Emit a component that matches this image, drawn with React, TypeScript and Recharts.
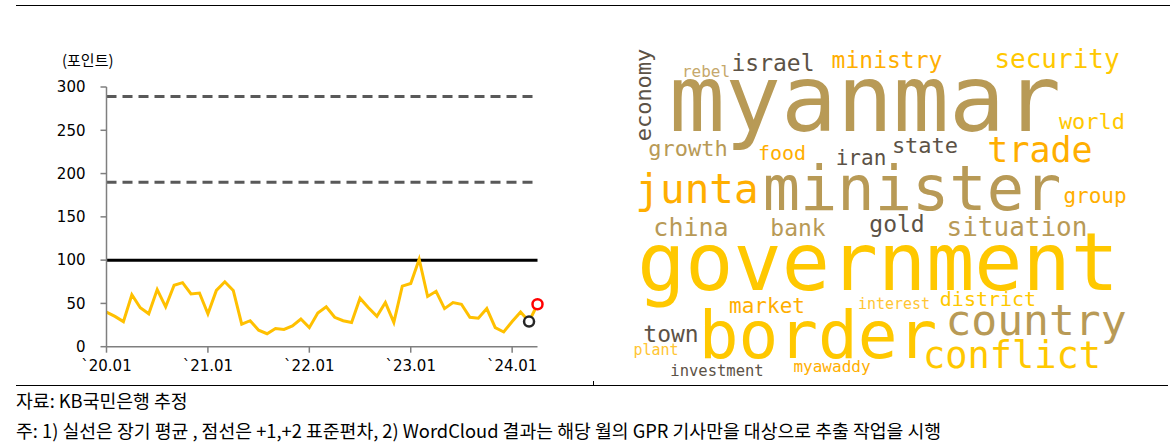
import React from "react";
import {
  LineChart,
  Line,
  XAxis,
  YAxis,
  ReferenceLine,
  ReferenceDot,
  ScatterChart,
  Scatter,
} from "recharts";

// GPR index, monthly 2020.01 ~ 2024.04
const months = [
  "`20.01", "`20.02", "`20.03", "`20.04", "`20.05", "`20.06", "`20.07", "`20.08", "`20.09", "`20.10", "`20.11", "`20.12",
  "`21.01", "`21.02", "`21.03", "`21.04", "`21.05", "`21.06", "`21.07", "`21.08", "`21.09", "`21.10", "`21.11", "`21.12",
  "`22.01", "`22.02", "`22.03", "`22.04", "`22.05", "`22.06", "`22.07", "`22.08", "`22.09", "`22.10", "`22.11", "`22.12",
  "`23.01", "`23.02", "`23.03", "`23.04", "`23.05", "`23.06", "`23.07", "`23.08", "`23.09", "`23.10", "`23.11", "`23.12",
  "`24.01", "`24.02", "`24.03", "`24.04",
];
const gpr = [
  40, 35, 29, 60, 45, 38, 66, 46, 71, 74, 61, 62,
  38, 65, 75, 65, 26, 30, 19, 15, 21, 20, 24, 32,
  22, 39, 46, 34, 30, 28, 56, 45, 35, 51, 28, 70,
  73, 101, 58, 64, 44, 51, 49, 34, 33, 44, 22, 17,
  29, 40, 29, 49,
];
const xTicks = [0, 12, 24, 36, 48];
const yTicks = [0, 50, 100, 150, 200, 250, 300];
const longMean = 100;
const sd1 = 190;
const sd2 = 289;

// word cloud: words with weights, then placement in the cloud box
const words = [
  "myanmar", "government", "border", "minister", "country", "junta", "conflict", "trade",
  "security", "situation", "china", "israel", "ministry", "bank", "gold", "town",
  "growth", "world", "state", "economy", "iran", "group", "market", "food",
  "district", "myawaddy", "rebel", "investment", "interest", "plant",
];
const weights = [
  93, 80, 66, 62, 43, 41, 37, 35,
  26, 26, 25, 23, 23, 23, 23, 23,
  22, 22, 22, 22, 21, 21, 21, 20,
  20, 16, 16, 15.5, 15, 15,
];
const placeX = [
  235, 248, 188, 282, 406, 67, 382, 410,
  427, 387, 61, 143, 257, 168, 267, 41,
  58, 462, 295, 21, 231, 465, 137, 152,
  358, 202, 76, 87, 264, 26,
];
const placeY = [
  86, 245, 313, 165, 290, 158, 323, 117,
  23, 191, 191, 26, 23, 191, 187, 297,
  111, 84, 108, 50, 120, 158, 268, 115,
  261, 327, 32, 331, 264, 310,
];
const tones = [
  "tan", "yellow", "yellow", "tan", "tan", "orange", "yellow", "orange",
  "yellow", "tan", "tan", "dark", "orange", "tan", "dark", "dark",
  "tan", "yellow", "dark", "dark", "dark", "orange", "orange", "orange",
  "yellow", "orange", "lightTan", "dark", "light", "light",
];

const toneColor: Record<string, string> = {
  tan: "#B89A56",
  lightTan: "#C6A86C",
  yellow: "#FFC800",
  orange: "#FFAE00",
  light: "#FFC533",
  dark: "#5C5246",
};

const lineData = gpr.map((v, i) => ({ idx: i, month: months[i], gpr: v }));
const cloudData = words.map((w, i) => ({
  word: w,
  size: weights[i],
  x: placeX[i],
  y: placeY[i],
  color: toneColor[tones[i]],
  vertical: w === "economy",
}));

const axisFont = { fontFamily: "DejaVu Sans", fontSize: 15, fill: "#000" };
const cjk = "'Noto Sans CJK KR', 'Noto Sans', sans-serif";

function Word(props: any) {
  const { cx, cy, payload } = props;
  if (cx == null || cy == null) return <g />;
  return (
    <text
      x={cx}
      y={cy}
      textAnchor="middle"
      fontFamily="DejaVu Sans Mono"
      fontSize={payload.size}
      fill={payload.color}
      transform={payload.vertical ? `rotate(-90 ${cx} ${cy})` : undefined}
    >
      {payload.word}
    </text>
  );
}

function GprChart() {
  return (
    <LineChart
      width={560}
      height={380}
      data={lineData}
      margin={{ top: 87, right: 22.5, bottom: 3.3, left: 46.5 }}
    >
      <XAxis
        dataKey="idx"
        type="number"
        domain={[0, 51]}
        ticks={xTicks}
        tickFormatter={(v: number) => months[v]}
        tick={axisFont}
        tickSize={6}
        tickMargin={8}
        height={30}
        stroke="#7F7F7F"
        strokeWidth={1.5}
        interval={0}
      />
      <YAxis
        type="number"
        domain={[0, 300]}
        ticks={yTicks}
        tick={axisFont}
        tickSize={6}
        tickMargin={15}
        width={60}
        stroke="#7F7F7F"
        strokeWidth={1.5}
        interval={0}
      />
      <ReferenceLine y={sd2} stroke="#595959" strokeWidth={3} strokeDasharray="10 6" />
      <ReferenceLine y={sd1} stroke="#595959" strokeWidth={3} strokeDasharray="10 6" />
      <ReferenceLine y={longMean} stroke="#000" strokeWidth={3} />
      <Line
        type="linear"
        dataKey="gpr"
        stroke="#FFC000"
        strokeWidth={3}
        dot={false}
        isAnimationActive={false}
      />
      <ReferenceDot x={50} y={gpr[50]} r={5} fill="#fff" stroke="#262626" strokeWidth={2.5} />
      <ReferenceDot x={51} y={gpr[51]} r={5} fill="#fff" stroke="#FF0000" strokeWidth={2.5} />
    </LineChart>
  );
}

function WordCloud() {
  return (
    <ScatterChart width={500} height={340} margin={{ top: 0, right: 0, bottom: 0, left: 0 }}>
      <XAxis type="number" dataKey="x" domain={[0, 500]} hide />
      <YAxis type="number" dataKey="y" domain={[0, 340]} reversed hide />
      <Scatter data={cloudData} shape={Word} isAnimationActive={false} />
    </ScatterChart>
  );
}

const noteStyle: React.CSSProperties = {
  position: "absolute",
  left: 16,
  fontFamily: cjk,
  fontSize: 18.3,
  lineHeight: "22px",
  color: "#000",
  whiteSpace: "nowrap",
};

export default function App() {
  return (
    <div
      style={{
        position: "absolute",
        left: 0,
        top: 0,
        width: 1176,
        height: 447,
        background: "#fff",
        overflow: "hidden",
      }}
    >
      <div style={{ position: "absolute", left: 16, top: 5, width: 1154, height: 1.3, background: "#000" }} />
      <div
        style={{
          position: "absolute",
          left: 62,
          top: 50,
          fontFamily: cjk,
          fontSize: 15,
          lineHeight: "20px",
          color: "#000",
        }}
      >
        (포인트)
      </div>
      <div style={{ position: "absolute", left: 0, top: 0 }}>
        <GprChart />
      </div>
      <div style={{ position: "absolute", left: 630, top: 45 }}>
        <WordCloud />
      </div>
      <div style={{ position: "absolute", left: 16, top: 385, width: 1152, height: 1.3, background: "#000" }} />
      <div style={{ position: "absolute", left: 593, top: 381, width: 1, height: 4, background: "#000" }} />
      <div style={{ ...noteStyle, top: 389 }}>자료: KB국민은행 추정</div>
      <div style={{ ...noteStyle, top: 419 }}>
        주: 1) 실선은 장기 평균 , 점선은 +1,+2 표준편차, 2) WordCloud 결과는 해당 월의 GPR 기사만을 대상으로 추출 작업을 시행
      </div>
    </div>
  );
}
